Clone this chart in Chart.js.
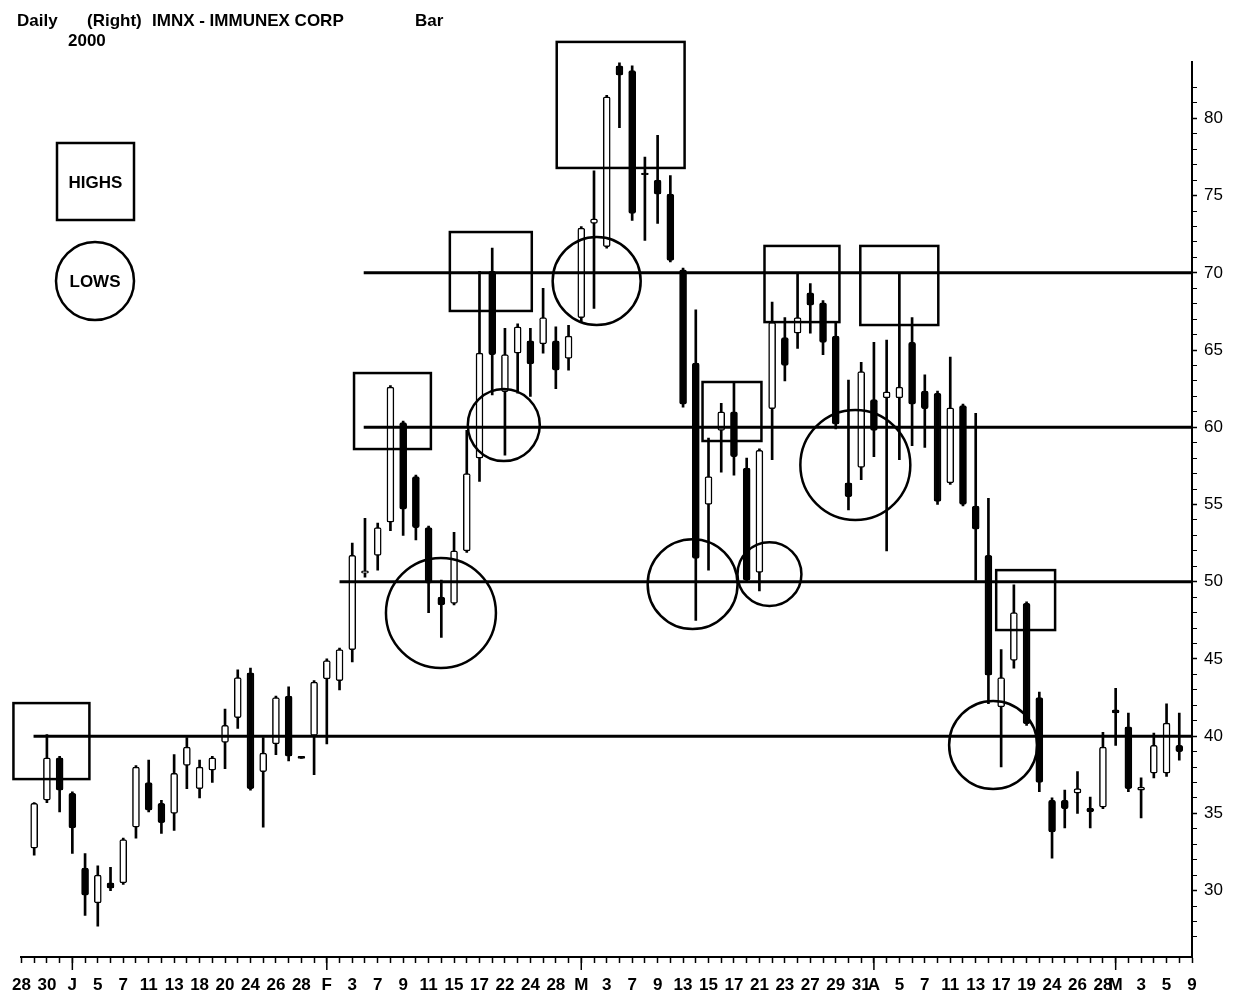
<!DOCTYPE html>
<html>
<head>
<meta charset="utf-8">
<title>IMNX - IMMUNEX CORP</title>
<script src="https://cdn.jsdelivr.net/npm/chart.js@4.4.0/dist/chart.umd.min.js"></script>
<style>
  html, body { margin: 0; padding: 0; background: #fff; }
  #wrap { width: 1238px; height: 999px; }
</style>
</head>
<body>
<div id="wrap"><canvas id="chart" width="1238" height="999"></canvas></div>
<script>
// trading days, Dec 28 1999 .. May 9 2000
const days = [
  '12-28', '12-29', '12-30', '12-31', '01-03', '01-04', '01-05', '01-06', '01-07', '01-10',
  '01-11', '01-12', '01-13', '01-14', '01-18', '01-19', '01-20', '01-21', '01-24', '01-25',
  '01-26', '01-27', '01-28', '01-31', '02-01', '02-02', '02-03', '02-04', '02-07', '02-08',
  '02-09', '02-10', '02-11', '02-14', '02-15', '02-16', '02-17', '02-18', '02-22', '02-23',
  '02-24', '02-25', '02-28', '02-29', '03-01', '03-02', '03-03', '03-06', '03-07', '03-08',
  '03-09', '03-10', '03-13', '03-14', '03-15', '03-16', '03-17', '03-20', '03-21', '03-22',
  '03-23', '03-24', '03-27', '03-28', '03-29', '03-30', '03-31', '04-03', '04-04', '04-05',
  '04-06', '04-07', '04-10', '04-11', '04-12', '04-13', '04-14', '04-17', '04-18', '04-19',
  '04-20', '04-24', '04-25', '04-26', '04-27', '04-28', '05-01', '05-02', '05-03', '05-04',
  '05-05', '05-08', '05-09'
];

const tickLabels = [
  '28', '', '30', '', 'J', '', '5', '', '7', '',
  '11', '', '13', '', '18', '', '20', '', '24', '',
  '26', '', '28', '', 'F', '', '3', '', '7', '',
  '9', '', '11', '', '15', '', '17', '', '22', '',
  '24', '', '28', '', 'M', '', '3', '', '7', '',
  '9', '', '13', '', '15', '', '17', '', '21', '',
  '23', '', '27', '', '29', '', '31', 'A', '', '5',
  '', '7', '', '11', '', '13', '', '17', '', '19',
  '', '24', '', '26', '', '28', 'M', '', '3', '',
  '5', '', '9'
];

// first trading day of each month gets a longer tick
const monthStarts = [4, 24, 44, 67, 86];

const opens = [
  null, 32.75, 35.85, 38.6, 36.3, 31.45, 29.2, 30.5, 30.5, 34.1,
  37.0, 35.65, 35.0, 38.1, 36.6, 37.8, 39.6, 41.2, 44.1, 37.7,
  39.5, 42.6, 38.7, 40.05, 43.7, 43.6, 45.6, 50.55, 51.7, 53.85,
  60.3, 56.8, 53.5, 49.0, 48.6, 52.0, 58.0, 70.1, 62.3, 64.8,
  65.6, 65.4, 65.6, 64.45, 67.1, 73.2, 71.7, 83.4, 83.1, 76.45,
  76.0, 75.1, 70.2, 64.15, 55.0, 59.8, 61.0, 57.35, 50.6, 61.2,
  65.8, 66.1, 68.7, 68.05, 65.9, 56.4, 57.4, 61.8, 61.9, 61.9,
  65.5, 62.35, 62.2, 56.4, 61.4, 54.9, 51.7, 41.9, 44.9, 48.6,
  42.5, 35.85, 35.85, 36.3, 35.35, 35.4, 41.7, 40.6, 36.5, 37.6,
  37.6, 39.4, null
];
const highs = [
  null, 35.7, 40.1, 38.7, 36.4, 32.4, 31.6, 31.5, 33.4, 38.1,
  38.45, 35.85, 38.8, 39.9, 38.45, 38.7, 41.75, 44.3, 44.4, 39.9,
  42.6, 43.2, 38.7, 43.6, 45.0, 45.7, 52.5, 54.1, 53.8, 62.7,
  60.4, 56.9, 53.6, 50.1, 53.2, 59.8, 70.1, 71.6, 66.4, 66.7,
  66.4, 69.0, 66.5, 66.6, 73.0, 76.6, 81.5, 83.6, 83.4, 77.5,
  78.9, 76.3, 70.3, 67.6, 59.3, 61.55, 62.9, 58.0, 58.6, 68.1,
  67.1, 69.9, 69.3, 68.2, 66.8, 63.05, 64.2, 65.5, 65.65, 69.9,
  67.1, 63.4, 62.35, 64.55, 61.5, 60.9, 55.4, 45.6, 49.8, 48.7,
  42.85, 36.0, 36.5, 37.7, 36.05, 40.25, 43.1, 41.5, 37.3, 40.2,
  42.1, 41.5, null
];
const lows = [
  null, 32.3, 35.7, 35.1, 32.4, 28.4, 27.7, 30.0, 30.4, 33.4,
  35.1, 33.7, 33.9, 36.6, 36.0, 37.0, 37.9, 40.5, 36.5, 34.1,
  38.8, 38.4, 38.55, 37.5, 39.5, 43.0, 44.8, 50.3, 50.75, 53.3,
  53.0, 52.7, 48.0, 46.4, 48.5, 51.9, 56.5, 62.1, 58.2, 62.2,
  62.0, 64.8, 62.5, 63.7, 66.8, 67.7, 71.6, 79.4, 73.4, 72.1,
  73.2, 70.7, 61.3, 47.5, 50.75, 57.1, 56.9, 50.0, 49.4, 57.9,
  63.0, 65.1, 66.1, 64.7, 59.9, 54.65, 56.6, 58.1, 52.0, 57.9,
  58.8, 58.7, 55.0, 56.3, 54.9, 50.1, 42.1, 38.0, 44.4, 40.7,
  36.4, 32.1, 34.05, 35.0, 34.05, 35.3, 39.4, 36.4, 34.7, 37.3,
  37.4, 38.45, null
];
const closes = [
  null, 35.65, 38.6, 36.5, 34.05, 29.7, 31.0, 30.15, 33.3, 38.0,
  35.2, 34.4, 37.6, 39.3, 38.0, 38.6, 40.7, 43.8, 36.6, 38.9,
  42.5, 38.7, 38.55, 43.5, 44.9, 45.6, 51.7, 50.7, 53.5, 62.6,
  54.7, 53.5, 49.9, 48.5, 52.0, 57.0, 64.8, 64.7, 64.7, 66.5,
  64.1, 67.1, 63.7, 65.9, 72.9, 73.5, 81.4, 82.8, 73.85, 76.35,
  75.1, 70.8, 61.5, 51.5, 56.8, 61.0, 58.1, 50.1, 58.5, 66.8,
  64.0, 67.1, 67.9, 65.5, 60.2, 55.5, 63.6, 59.8, 62.3, 62.6,
  61.5, 61.2, 55.2, 61.25, 55.0, 53.4, 43.95, 43.8, 48.0, 40.8,
  37.0, 33.8, 35.3, 36.6, 35.1, 39.3, 41.5, 36.6, 36.7, 39.4,
  40.85, 39.0, null
];

// support / resistance levels and the day each line starts on
const levels = [70, 60, 50, 40];
const levelStartDay = [26.9, 26.9, 25.0, 0.95];

// marked highs: [fromDay, toDay, topPrice, bottomPrice]
const highBoxes = [
  [-0.63, 5.34, 42.14, 37.22],
  [26.14, 32.18, 63.51, 58.59],
  [33.67, 40.11, 72.64, 67.53],
  [42.07, 52.12, 84.95, 76.79],
  [53.53, 58.16, 62.93, 59.11],
  [58.40, 64.29, 71.74, 66.81],
  [65.93, 72.06, 71.74, 66.62],
  [76.61, 81.24, 50.75, 46.87]
];
// marked lows: [centreDay, centrePrice, radius in price units]
const lowCircles = [
  [32.97, 47.97, 3.56],
  [37.91, 60.14, 2.33],
  [45.21, 69.47, 2.85],
  [52.75, 49.84, 2.91],
  [58.79, 50.49, 2.07],
  [65.54, 57.55, 3.56],
  [76.37, 39.42, 2.85]
];

const FONT = '"Liberation Sans", Arial, sans-serif';

const bodies = opens.map((o, i) => o == null ? null : [o, closes[i]]);
const wicks = lows.map((l, i) => l == null ? null : [l, highs[i]]);
const bodyFill = opens.map((o, i) => (o != null && closes[i] >= o) ? '#fff' : '#000');

const markup = {
  id: 'markup',
  afterDatasetsDraw(chart) {
    const { ctx, scales: { x, y } } = chart;
    const last = days.length - 1;
    ctx.save();
    ctx.strokeStyle = '#000';

    ctx.lineWidth = 3;
    levels.forEach((p, k) => {
      const py = y.getPixelForValue(p);
      ctx.beginPath();
      ctx.moveTo(x.getPixelForValue(levelStartDay[k]), py);
      ctx.lineTo(x.getPixelForValue(last), py);
      ctx.stroke();
    });

    ctx.lineWidth = 2.5;
    highBoxes.forEach(([d0, d1, top, bot]) => {
      const x0 = x.getPixelForValue(d0), x1 = x.getPixelForValue(d1);
      const y0 = y.getPixelForValue(top), y1 = y.getPixelForValue(bot);
      ctx.strokeRect(x0, y0, x1 - x0, y1 - y0);
    });

    lowCircles.forEach(([d, p, r]) => {
      const cy = y.getPixelForValue(p);
      const rad = Math.abs(y.getPixelForValue(p - r) - cy);
      ctx.beginPath();
      ctx.arc(x.getPixelForValue(d), cy, rad, 0, Math.PI * 2);
      ctx.stroke();
    });
    ctx.restore();
  },
  afterDraw(chart) {
    const { ctx, chartArea, scales: { x } } = chart;
    ctx.save();
    ctx.strokeStyle = '#000';
    ctx.fillStyle = '#000';

    // longer ticks at month starts
    ctx.lineWidth = 1.5;
    monthStarts.forEach(i => {
      const px = x.getPixelForValue(i);
      ctx.beginPath();
      ctx.moveTo(px, chartArea.bottom);
      ctx.lineTo(px, chartArea.bottom + 13);
      ctx.stroke();
    });

    // header line
    ctx.font = 'bold 17px ' + FONT;
    ctx.textBaseline = 'alphabetic';
    ctx.textAlign = 'left';
    ctx.fillText('Daily', 17, 26);
    ctx.fillText('(Right)', 87, 26);
    ctx.fillText('IMNX - IMMUNEX CORP', 152, 26);
    ctx.fillText('Bar', 415, 26);
    ctx.fillText('2000', 68, 46);

    // key: box = highs, circle = lows
    ctx.lineWidth = 2.5;
    ctx.strokeRect(57, 143, 77, 77);
    ctx.beginPath();
    ctx.arc(95, 281, 39, 0, Math.PI * 2);
    ctx.stroke();
    ctx.font = 'bold 17px ' + FONT;
    ctx.textAlign = 'center';
    ctx.textBaseline = 'middle';
    ctx.fillText('HIGHS', 95.5, 183);
    ctx.fillText('LOWS', 95, 282);
    ctx.restore();
  }
};

new Chart(document.getElementById('chart'), {
  type: 'bar',
  data: {
    labels: days,
    datasets: [
      {
        label: 'Body',
        data: bodies,
        backgroundColor: bodyFill,
        borderColor: '#000',
        borderWidth: 1.5,
        borderSkipped: false,
        borderRadius: 2,
        barThickness: 7,
        grouped: false,
        order: 0
      },
      {
        label: 'Range',
        data: wicks,
        backgroundColor: '#000',
        borderWidth: 0,
        barThickness: 2,
        grouped: false,
        order: 1
      }
    ]
  },
  options: {
    responsive: false,
    devicePixelRatio: 1,
    animation: false,
    layout: { padding: { left: 20, top: 62, right: 0, bottom: 0 } },
    plugins: {
      legend: { display: false },
      tooltip: { enabled: false }
    },
    scales: {
      x: {
        offset: false,
        grid: { display: true, drawOnChartArea: false, offset: false, tickLength: 6, tickWidth: 1.5, tickColor: '#000' },
        border: { display: true, color: '#000', width: 2 },
        ticks: {
          autoSkip: false,
          maxRotation: 0,
          minRotation: 0,
          padding: 12,
          color: '#000',
          font: { family: FONT, size: 17, weight: 'bold' },
          callback: (v, i) => tickLabels[i]
        },
        afterFit(scale) { scale.height = 42; }
      },
      y: {
        position: 'right',
        min: 25.7,
        max: 83.65,
        grid: { display: true, drawOnChartArea: false, tickLength: 5, tickColor: '#000',
                tickWidth: ctx => (ctx.tick && ctx.tick.value % 5 === 0) ? 1.5 : 1 },
        border: { display: true, color: '#000', width: 2 },
        ticks: {
          autoSkip: false,
          stepSize: 1,
          padding: 7,
          color: '#000',
          font: { family: FONT, size: 17 },
          callback: v => (v % 5 === 0 ? String(v) : '')
        },
        afterBuildTicks(scale) {
          scale.ticks = scale.ticks.filter(t => Number.isInteger(t.value));
        },
        afterFit(scale) { scale.width = 46; }
      }
    }
  },
  plugins: [markup]
});
</script>
</body>
</html>
